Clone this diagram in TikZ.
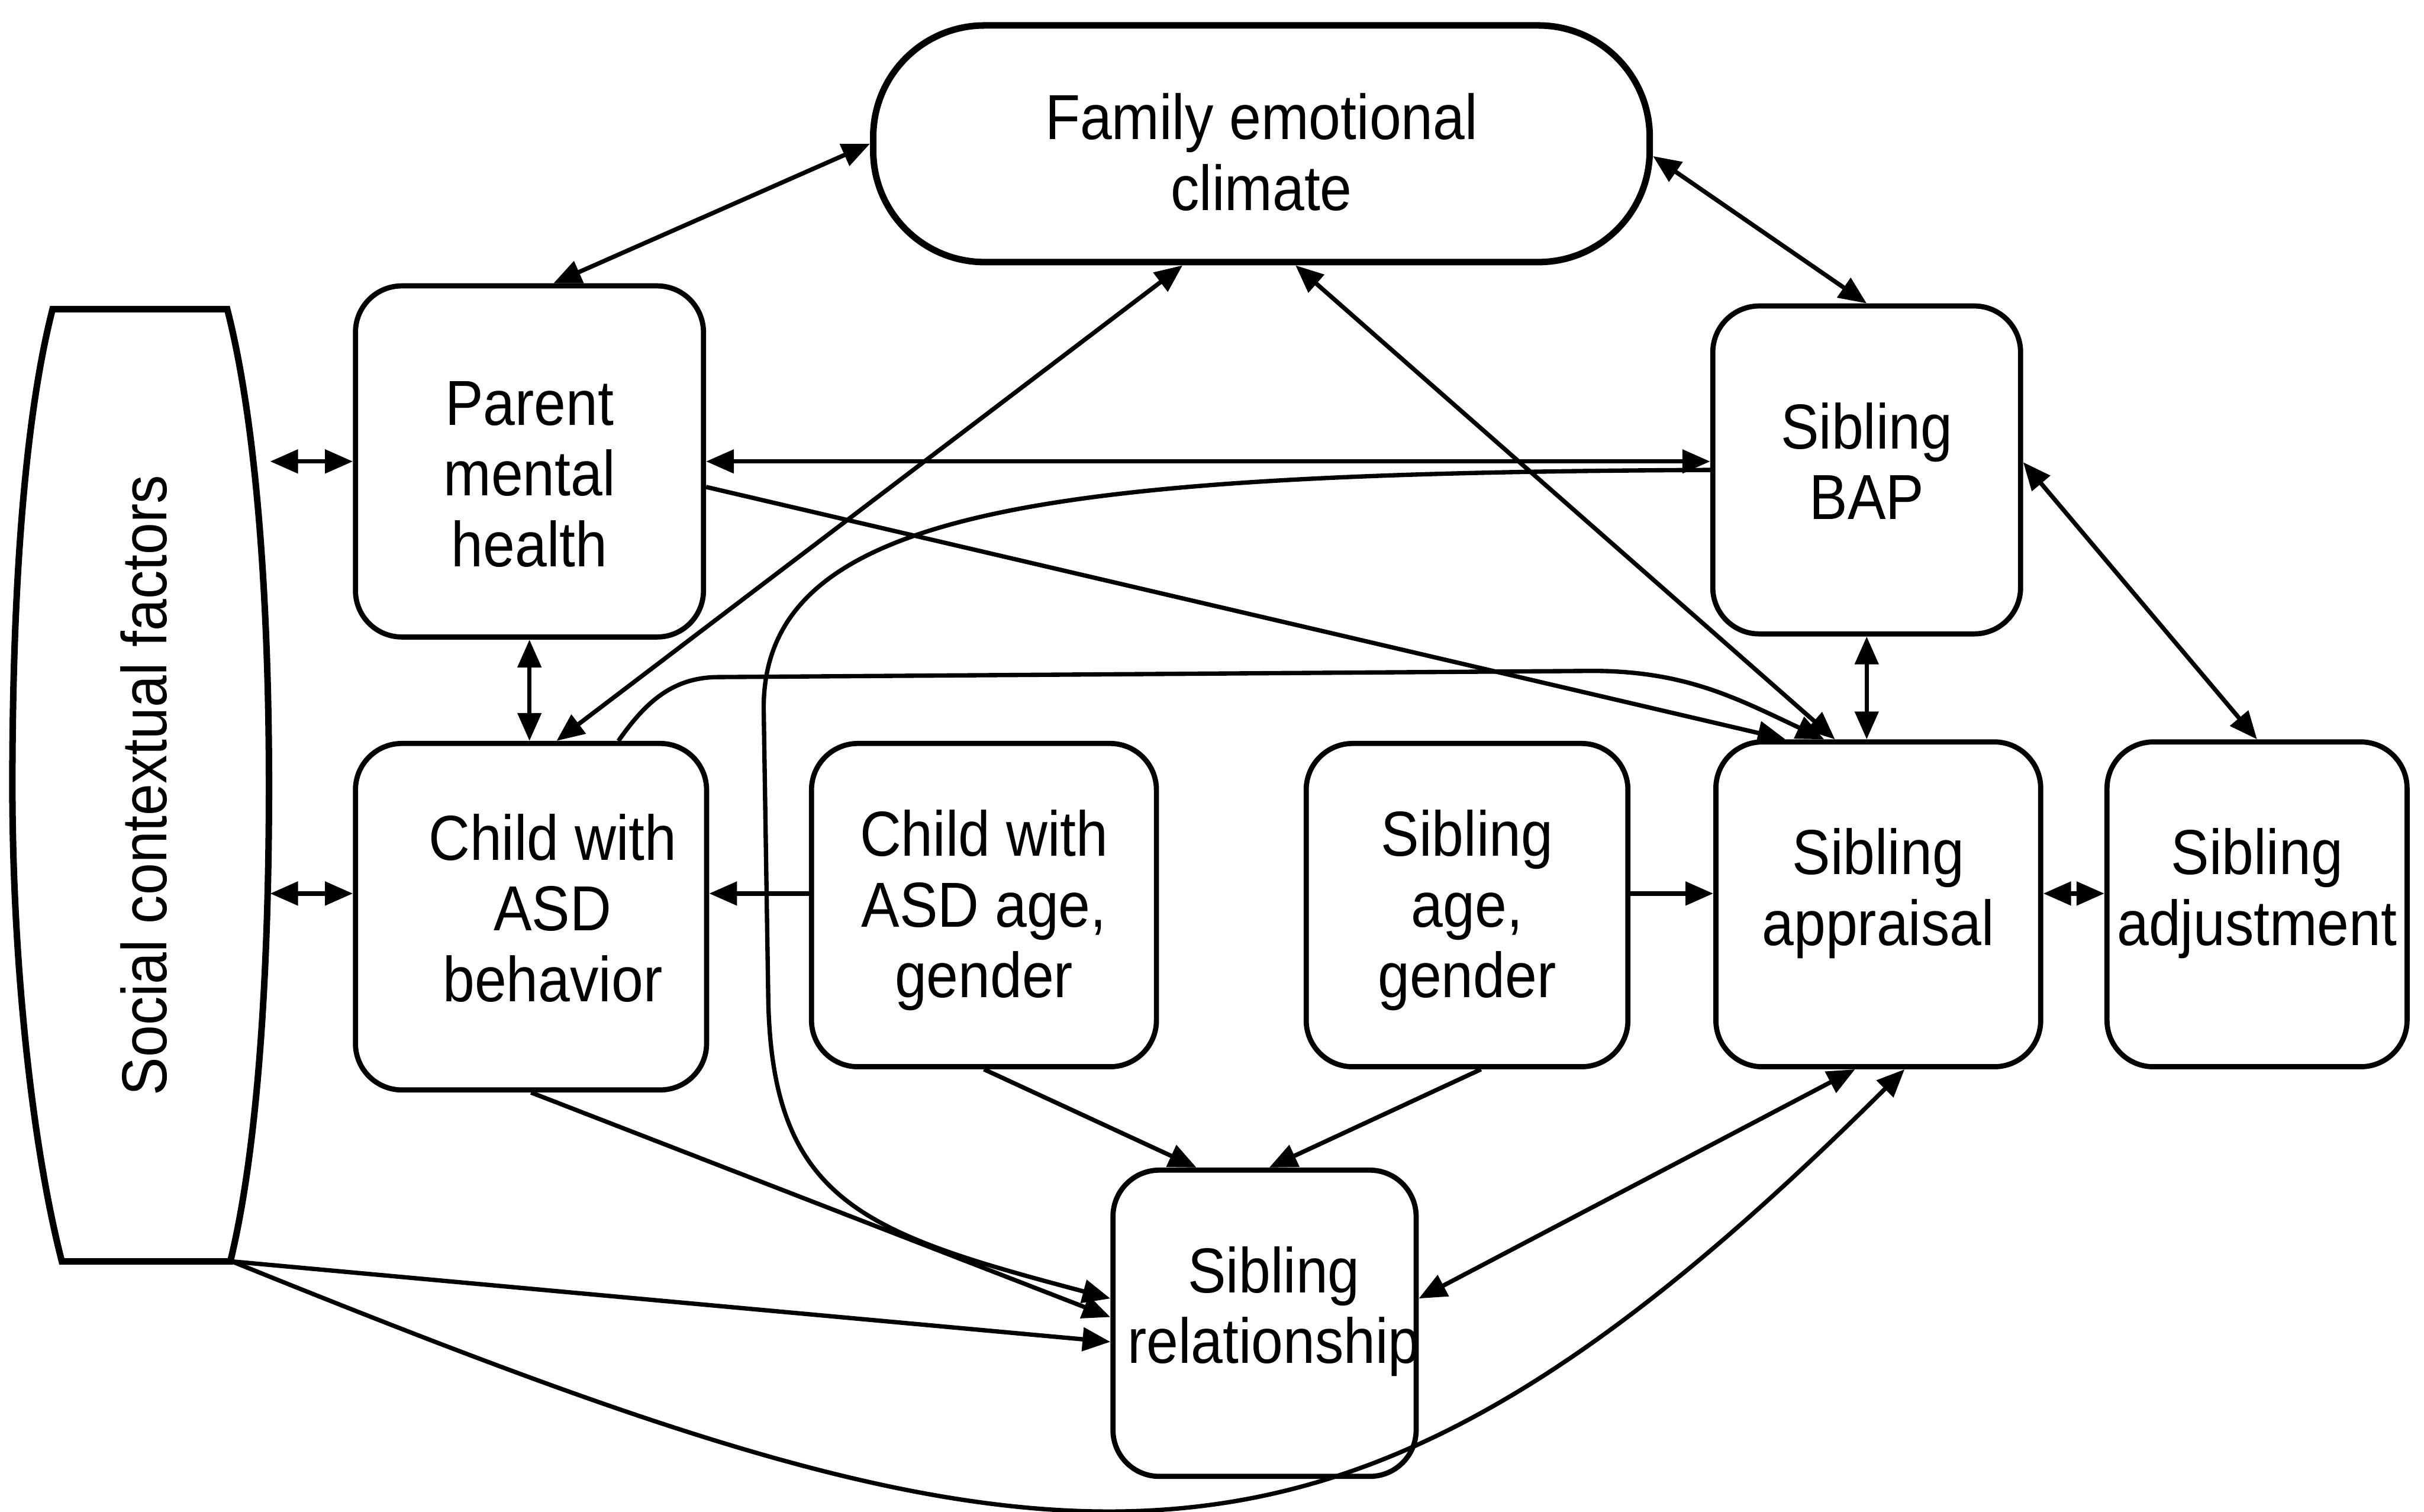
\documentclass[tikz,border=0pt]{standalone}
\usepackage{fontspec}
\setmainfont{Liberation Sans}[FakeStretch=0.9]
\usetikzlibrary{arrows.meta}
\newcommand{\boxlabel}[3]{\raisebox{#2}[\height][\depth]{\hspace*{#1}\begin{tabular}{@{}c@{}}#3\end{tabular}\hspace*{-#1}}}

\begin{document}
\begin{tikzpicture}[x=0.01cm,y=0.01cm,font=\fontsize{11.7pt}{13pt}\selectfont,
  box/.style={draw,line width=0.95pt,rounded corners=0.3cm,inner sep=0pt},
  oneway/.style={line width=0.8pt,-{Triangle[length=0.18cm,width=0.15cm]}},
  twoway/.style={line width=0.8pt,{Triangle[length=0.18cm,width=0.15cm]}-{Triangle[length=0.18cm,width=0.15cm]}}]
\useasboundingbox (0,0) rectangle (1568,978);
\node[box,line width=1.2pt,rounded corners=0.72cm,minimum width=5.02cm,minimum height=1.53cm] (family) at (816,885) {\boxlabel{0cm}{-0.11cm}{Family emotional\\climate}};
\node[box,minimum width=2.25cm,minimum height=2.27cm] (parent) at (342.5,679.5) {\boxlabel{0cm}{-0.13cm}{Parent\\mental\\health}};
\node[box,minimum width=1.99cm,minimum height=2.12cm] (bap) at (1207.5,674) {\boxlabel{0cm}{0cm}{Sibling\\BAP}};
\node[box,minimum width=2.27cm,minimum height=2.24cm] (cbeh) at (343.5,385) {\boxlabel{0.14cm}{0cm}{Child with\\ASD\\behavior}};
\node[box,minimum width=2.23cm,minimum height=2.09cm] (cage) at (636.5,392.5) {\boxlabel{0cm}{-0.05cm}{Child with\\ASD age,\\gender}};
\node[box,minimum width=2.08cm,minimum height=2.09cm] (sage) at (949,392.5) {\boxlabel{0cm}{-0.05cm}{Sibling\\age,\\gender}};
\node[box,minimum width=2.10cm,minimum height=2.10cm] (appr) at (1215,393) {\boxlabel{0cm}{0.055cm}{Sibling\\appraisal}};
\node[box,minimum width=1.94cm,minimum height=2.10cm] (adj) at (1460,393) {\boxlabel{0cm}{0.055cm}{Sibling\\adjustment}};
\node[box,minimum width=1.96cm,minimum height=1.98cm] (rel) at (818,122) {\boxlabel{0.06cm}{0.06cm}{Sibling\\relationship}};
\node[minimum width=1.66cm,minimum height=6.16cm,inner sep=0pt] (social) at (91,470) {\hspace*{0.04cm}\rotatebox{90}{Social contextual factors}};
\draw[line width=1.2pt] (34,778) -- (147,778) .. controls (167,700) and (174,580) .. (174,470) .. controls (174,360) and (168,240) .. (149,162) -- (40,162) .. controls (20,240) and (8,360) .. (8,470) .. controls (8,580) and (14,700) .. (34,778) -- cycle;
\coordinate (socbr) at (150,162);
\coordinate (row) at (0,400);
\draw[twoway] (family.west) -- ([xshift=0.155cm]parent.north);
\draw[twoway] ([yshift=-0.08cm]family.east) -- (bap.north);
\draw[twoway] ([xshift=0.165cm]cbeh.north) -- ([xshift=-0.51cm]family.south);
\draw[twoway] ([xshift=0.22cm]family.south) -- ([xshift=-0.28cm]appr.north);
\draw[twoway] (parent.east) -- (parent.east -| bap.west);
\draw[oneway] ([yshift=-0.165cm]parent.east) -- ([xshift=-0.6cm]appr.north);
\draw[twoway] (parent.south) -- (parent.south |- cbeh.north);
\draw[twoway] (social.east |- parent.west) -- (parent.west);
\draw[twoway] (social.east |- row) -- (cbeh.west |- row);
\draw[oneway] (cage.west |- row) -- (cbeh.east |- row);
\draw[oneway] (sage.east |- row) -- (appr.west |- row);
\draw[twoway] (appr.east |- row) -- (adj.west |- row);
\draw[twoway] (bap.south) -- (bap.south |- appr.north);
\draw[twoway] ([yshift=0.05cm]bap.east) -- (adj.north);
\draw[oneway] (cage.south) -- ([xshift=-0.44cm]rel.north);
\draw[oneway] ([xshift=0.09cm]sage.south) -- ([xshift=0.03cm]rel.north);
\draw[oneway] (cbeh.south) -- ([yshift=0.04cm]rel.west);
\draw[oneway] (socbr) -- ([yshift=-0.12cm]rel.west);
\draw[twoway] ([yshift=0.16cm]rel.east) -- ([xshift=-0.15cm]appr.south);
\draw[oneway] (socbr) .. controls (687,-55) and (857,-87) .. ([xshift=0.17cm]appr.south);
\draw[oneway] ([xshift=0.565cm]cbeh.north) to[out=55,in=180] (465,540) -- (1030,544) to[out=0,in=155] ([xshift=-0.35cm]appr.north);
\draw[oneway] (bap.west) .. controls (680,672) and (494,650) .. (494,520) -- (497,330) .. controls (500,200) and (560,180) .. ([yshift=0.16cm]rel.west);
\end{tikzpicture}
\end{document}
